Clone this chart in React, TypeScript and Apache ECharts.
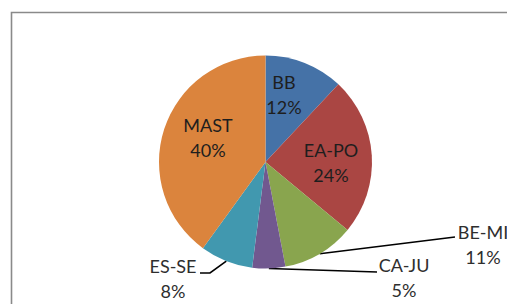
import React, { useEffect, useRef } from "react";
import * as echarts from "echarts";

const categories = ["BB", "EA-PO", "BE-MI", "CA-JU", "ES-SE", "MAST"];
const values = [12, 24, 11, 5, 8, 40];
const colors = ["#4572A7", "#AA4643", "#89A54E", "#71588F", "#4198AF", "#DB843D"];
const insideLabels = ["BB", "EA-PO", "MAST"];

// label block centres (text placement) and leader-line bends
const labelCenters: Record<string, [number, number]> = {
  "BB": [284, 94],
  "EA-PO": [331, 162],
  "MAST": [208, 137],
  "BE-MI": [483, 244],
  "CA-JU": [404, 277],
  "ES-SE": [173, 278],
};
const leaderEnds: Record<string, [number, number][]> = {
  "BE-MI": [[455, 237], [455, 237]],
  "CA-JU": [[377, 272], [377, 272]],
  "ES-SE": [[210, 273], [200, 273]],
};

export default function App() {
  const ref = useRef<HTMLDivElement>(null);
  useEffect(() => {
    if (!ref.current) return;
    const chart = echarts.init(ref.current, null, { renderer: "svg" });
    const data = categories.map((name, i) => {
      const inside = insideLabels.includes(name);
      return {
        name,
        value: values[i],
        itemStyle: { color: colors[i] },
        label: {
          position: inside ? "inside" : "outside",
          color: inside ? "#1e1e1e" : "#2e2e2e",
        },
        labelLine: { show: !inside },
      };
    });
    chart.setOption({
      animation: false,
      backgroundColor: "#ffffff",
      graphic: [
        {
          type: "rect",
          shape: { x: 11.5, y: 12.5, width: 700, height: 500 },
          style: { fill: "none", stroke: "#8a8a8a", lineWidth: 1.6 },
          silent: true,
        },
      ],
      series: [
        {
          type: "pie",
          center: [265.5, 162],
          radius: [0, 106.5],
          startAngle: 90,
          clockwise: true,
          avoidLabelOverlap: false,
          data,
          itemStyle: { borderWidth: 0 },
          label: {
            show: true,
            formatter: (p: any) => `${p.name}\n${Math.round(p.percent)}%`,
            fontFamily: "Lato",
            fontSize: 18,
            lineHeight: 25,
            align: "center",
          },
          labelLine: {
            show: true,
            length: 10,
            length2: 10,
            lineStyle: { color: "#000000", width: 1.6 },
          },
          labelLayout: (params: any) => {
            const name = categories[params.dataIndex];
            const c = labelCenters[name];
            const res: any = {
              x: c[0],
              y: c[1],
              align: "center",
              verticalAlign: "middle",
            };
            const ends = leaderEnds[name];
            if (ends && params.labelLinePoints) {
              res.labelLinePoints = [params.labelLinePoints[0], ends[0], ends[1]];
            }
            return res;
          },
        },
      ],
    });
    return () => chart.dispose();
  }, []);
  return (
    <div
      ref={ref}
      style={{ position: "fixed", left: 0, top: 0, width: 507, height: 304 }}
    />
  );
}
